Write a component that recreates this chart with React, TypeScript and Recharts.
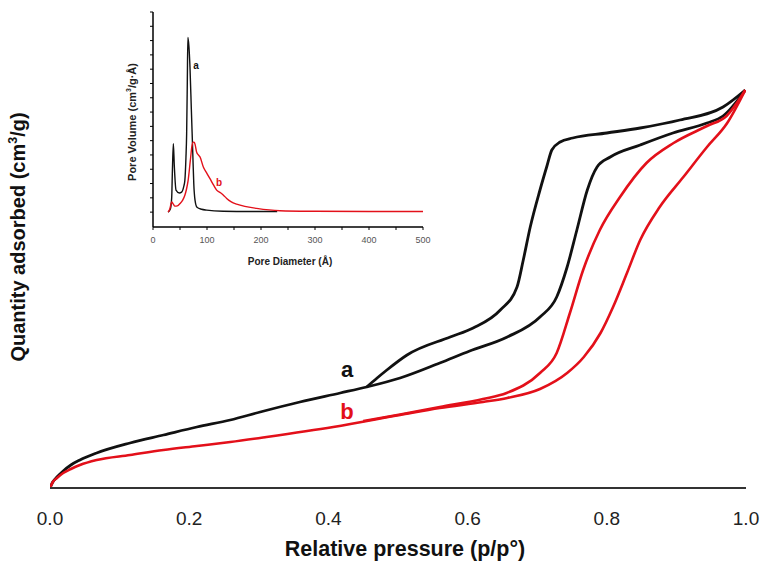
import { LineChart, Line, XAxis, YAxis } from 'recharts';

// main isotherm (x = p/p°, y = quantity adsorbed, arbitrary units)
const pressureTicks = [0, 0.2, 0.4, 0.6, 0.8, 1.0];

const blackAdsorption = [
  [0, 0], [0.004, 6], [0.01, 11], [0.019, 17], [0.03, 23], [0.043, 28], [0.067, 35],
  [0.115, 45], [0.163, 53], [0.211, 61], [0.259, 68], [0.302, 76], [0.359, 86],
  [0.417, 95], [0.455, 101], [0.503, 110], [0.56, 125], [0.603, 137], [0.657, 151],
  [0.704, 171], [0.728, 191], [0.743, 221], [0.757, 258], [0.772, 298], [0.786, 321],
  [0.805, 331], [0.848, 343], [0.895, 355], [0.944, 365], [0.967, 372], [0.999, 398],
];

const blackDesorption = [
  [0.455, 101], [0.47, 110], [0.484, 118], [0.513, 133], [0.575, 151], [0.608, 160],
  [0.647, 178], [0.671, 201], [0.68, 228], [0.69, 261], [0.704, 298], [0.714, 322],
  [0.721, 338], [0.733, 346], [0.751, 350], [0.8, 355], [0.848, 360], [0.905, 368],
  [0.967, 381], [0.999, 398],
];

const redAdsorption = [
  [0, 0], [0.004, 6], [0.01, 10], [0.019, 15], [0.03, 19], [0.043, 23], [0.067, 28],
  [0.115, 33], [0.163, 38], [0.211, 42], [0.259, 46], [0.311, 51], [0.407, 61],
  [0.503, 73], [0.56, 80], [0.622, 86], [0.657, 90], [0.704, 99], [0.743, 115],
  [0.767, 131], [0.791, 155], [0.809, 181], [0.829, 215], [0.848, 248], [0.876, 281],
  [0.91, 311], [0.944, 341], [0.973, 365], [0.999, 398],
];

const redDesorption = [
  [0.45, 67], [0.503, 73.5], [0.56, 81], [0.622, 89], [0.656, 95], [0.704, 115],
  [0.728, 135], [0.747, 175], [0.766, 218], [0.79, 258], [0.819, 291], [0.857, 325],
  [0.896, 345], [0.944, 362], [0.972, 372], [0.999, 398],
];

// inset: pore size distribution (x = Å, y = arbitrary units)
const diameterTicks = [0, 50, 100, 150, 200, 250, 300, 350, 400, 450, 500];
const volumeTicks = [0, 0.5, 1, 1.5, 2, 2.5, 3, 3.5, 4, 4.5, 5, 5.5, 6, 6.5, 7];
const volumeMin = -0.52;

const poreA = [
  [28, 0], [32, 0.1], [34.6, 0.5], [36, 1.5], [37.7, 2.39], [39.5, 1.6], [42.6, 0.77],
  [48.8, 0.67], [53, 0.7], [57, 0.9], [59, 1.11], [61, 1.9], [62.3, 2.74], [63.5, 4.5],
  [64.6, 6.11], [66.5, 5.8], [68.5, 5.06], [71, 3.6], [73.5, 2.16], [75.5, 1.0],
  [77.8, 0.42], [81.5, 0.17], [90, 0.1], [99.4, 0.07], [130, 0.03], [180, 0.02], [230, 0.02],
];

const poreB = [
  [28, 0], [31, 0.1], [34.6, 0.36], [37, 0.3], [40.7, 0.21], [45, 0.22], [50, 0.3],
  [55, 0.42], [59, 0.59], [62, 0.8], [65, 1.1], [69.1, 1.8], [72, 2.3], [74.5, 2.45],
  [76.5, 2.44], [78, 2.36], [80.8, 2.1], [84, 2.0], [87, 1.93], [93.2, 1.58], [100, 1.35],
  [105.5, 1.17], [112, 0.95], [117.9, 0.77], [125, 0.68], [130, 0.6], [136.4, 0.48],
  [145, 0.36], [154.9, 0.28], [170, 0.2], [191.9, 0.13], [235, 0.05], [300, 0.03],
  [400, 0.02], [500, 0.02],
];

const toPoints = (arr: number[][]) => arr.map(([x, y]) => ({ x, y }));

const FONT = '"Liberation Sans", Arial, sans-serif';
const BLACK = '#111111';
const RED = '#e3101a';
const INSET_AXIS = '#000000';

const abs = (left: number, top: number, extra: React.CSSProperties = {}): React.CSSProperties => ({
  position: 'absolute',
  left,
  top,
  transform: 'translate(-50%, -50%)',
  whiteSpace: 'nowrap',
  fontFamily: FONT,
  lineHeight: 1,
  ...extra,
});

const supStyle: React.CSSProperties = { fontSize: '0.62em', verticalAlign: 'super', lineHeight: 0 };

export default function App() {
  return (
    <div style={{ position: 'absolute', left: 0, top: 0, width: 763, height: 566, background: '#fff' }}>
      {/* inset first, main chart (transparent) laid over it */}
      <div style={{ position: 'absolute', left: 0, top: 0 }}>
        <LineChart width={440} height={275} margin={{ top: 12, right: 17, left: 133, bottom: 0 }}>
          <XAxis
            type="number"
            dataKey="x"
            domain={[0, 500]}
            ticks={diameterTicks}
            tickFormatter={(v: number) => (v % 100 === 0 ? String(v) : '')}
            height={48}
            tickSize={3}
            tickMargin={7}
            axisLine={{ stroke: INSET_AXIS, strokeWidth: 1.5 }}
            tickLine={{ stroke: INSET_AXIS, strokeWidth: 1 }}
            tick={{ fontSize: 9, fill: '#555', fontFamily: FONT }}
          />
          <YAxis
            type="number"
            domain={[volumeMin, 7]}
            ticks={volumeTicks}
            tickFormatter={() => ''}
            width={20}
            tickSize={3}
            axisLine={{ stroke: INSET_AXIS, strokeWidth: 1.5 }}
            tickLine={{ stroke: INSET_AXIS, strokeWidth: 1 }}
            tick={{ fontSize: 9, fill: '#555' }}
          />
          <Line data={toPoints(poreA)} dataKey="y" type="monotone" stroke={BLACK} strokeWidth={1.4} dot={false} isAnimationActive={false} />
          <Line data={toPoints(poreB)} dataKey="y" type="monotone" stroke={RED} strokeWidth={1.4} dot={false} isAnimationActive={false} />
        </LineChart>
      </div>

      <div style={{ position: 'absolute', left: 0, top: 0 }}>
        <LineChart width={763} height={566} margin={{ top: 48, right: 17, left: 50, bottom: 0 }}>
          <XAxis
            type="number"
            dataKey="x"
            domain={[0, 1]}
            ticks={pressureTicks}
            tickFormatter={(v: number) => v.toFixed(1)}
            height={78}
            tickSize={0}
            tickMargin={24}
            axisLine={{ stroke: '#333', strokeWidth: 2 }}
            tick={{ fontSize: 19, fill: '#222', fontFamily: FONT }}
            allowDataOverflow
          />
          <YAxis
            type="number"
            domain={[0, 440]}
            width={0}
            tick={false}
            tickLine={false}
            axisLine={{ stroke: '#333', strokeWidth: 2 }}
            allowDataOverflow
          />
          <Line data={toPoints(blackAdsorption)} dataKey="y" type="monotone" stroke={BLACK} strokeWidth={2.8} dot={false} isAnimationActive={false} />
          <Line data={toPoints(blackDesorption)} dataKey="y" type="monotone" stroke={BLACK} strokeWidth={2.8} dot={false} isAnimationActive={false} />
          <Line data={toPoints(redAdsorption)} dataKey="y" type="monotone" stroke={RED} strokeWidth={2.6} dot={false} isAnimationActive={false} />
          <Line data={toPoints(redDesorption)} dataKey="y" type="monotone" stroke={RED} strokeWidth={2.6} dot={false} isAnimationActive={false} />
        </LineChart>
      </div>

      <div style={abs(405, 550, { fontSize: 21.5, fontWeight: 700, color: '#111' })}>
        Relative pressure (p/p°)
      </div>
      <div style={abs(18, 237, { fontSize: 20, fontWeight: 700, color: '#111', transform: 'translate(-50%, -50%) rotate(-90deg)' })}>
        Quantity adsorbed (cm<span style={supStyle}>3</span>/g)
      </div>
      <div style={abs(347, 370, { fontSize: 22, fontWeight: 700, color: BLACK })}>a</div>
      <div style={abs(347, 412, { fontSize: 22, fontWeight: 700, color: RED })}>b</div>

      <div style={abs(290, 262, { fontSize: 10, fontWeight: 700, color: '#222' })}>Pore Diameter (Å)</div>
      <div style={abs(132, 122, { fontSize: 11, fontWeight: 700, color: '#222', transform: 'translate(-50%, -50%) rotate(-90deg)' })}>
        Pore Volume (cm<span style={supStyle}>3</span>/g·Å)
      </div>
      <div style={abs(196, 66, { fontSize: 10, fontWeight: 700, color: BLACK })}>a</div>
      <div style={abs(219, 183, { fontSize: 10, fontWeight: 700, color: RED })}>b</div>
    </div>
  );
}
